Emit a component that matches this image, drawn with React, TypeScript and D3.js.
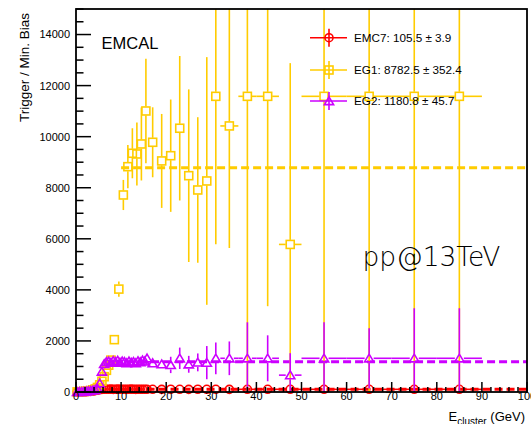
import React from 'react';
import * as d3 from 'd3';

// ---------------- data ----------------
// fine (0.5 GeV) bin centres
const fineX = [0.25, 0.75, 1.25, 1.75, 2.25, 2.75, 3.25, 3.75, 4.25, 4.75, 5.25, 5.75, 6.25, 6.75, 7.25, 7.75,
  8.25, 8.75, 9.25, 9.75, 10.25, 10.75, 11.25, 11.75, 12.25, 12.75, 13.25, 13.75, 14.25, 14.75, 15.25, 15.75];
// coarse bins (centres and half widths)
const hiX = [17, 19, 21, 23, 25, 27, 29, 31, 34, 38, 42.5, 47.5, 55, 65, 75, 85];
const hiHW = [1, 1, 1, 1, 1, 1, 1, 1, 2, 2, 2.5, 2.5, 5, 5, 5, 5];
// EG1 1-GeV bins
const eg1MidX = [8.5, 9.5, 10.5, 11.5, 12.5, 13.5, 14.5, 15.5];

// EMC7
const emc7Fine = [2, 4, 6, 9, 13, 18, 25, 35, 50, 70, 90, 102, 108, 110, 106, 112, 104, 109, 111, 105, 107, 110, 103, 108, 112, 106, 104, 109, 107, 105, 110, 106];
const emc7FineErr = [1, 1, 1, 1, 2, 2, 2, 3, 3, 4, 4, 5, 5, 5, 6, 6, 6, 7, 7, 7, 8, 8, 9, 9, 10, 10, 11, 11, 12, 12, 13, 13];
const emc7Hi = [106, 104, 107, 105, 103, 108, 105, 106, 104, 105, 106, 105, 105, 105, 105, 105];
const emc7HiErr = [15, 17, 20, 23, 26, 30, 34, 38, 42, 60, 70, 80, 90, 100, 105, 105];

// EG1 (low fine bins up to 8 GeV, then 1 GeV, then coarse)
const eg1Fine = [4, 8, 14, 22, 32, 45, 60, 85, 120, 180, 280, 420, 600, 850, 1050, 1250];
const eg1FineErr = [2, 3, 4, 5, 6, 8, 10, 12, 15, 20, 25, 35, 45, 60, 75, 90];
const eg1Mid = [2050, 4030, 7716, 8825, 9350, 9322, 9714, 11006];
const eg1MidErr = [110, 300, 590, 850, 980, 1230, 1430, 2050];
const eg1Hi = [9780, 9050, 9255, 10330, 8472, 7912, 8265, 11580, 10420, 11580, 11580, 5780, 11580, 11580, 11580, 11580];
const eg1HiErr = [1370, 1840, 2200, 2830, 3380, 2850, 4850, 5790, 4780, 11580, 8220, 7100, 11580, 11580, 11580, 11580];

// EG2
const eg2Fine = [3, 6, 10, 16, 24, 35, 50, 70, 85, 140, 340, 800, 1100, 1180, 1200, 1150, 1220, 1180, 1230, 1150, 1200, 1180, 1130, 1200, 1150, 1180, 1130, 1210, 1170, 1240, 1200, 1320];
const eg2FineErr = [1, 2, 3, 4, 5, 6, 8, 10, 12, 15, 20, 30, 40, 40, 45, 45, 50, 50, 55, 55, 60, 60, 65, 65, 70, 70, 75, 75, 80, 80, 85, 90];
const eg2Hi = [1130, 1090, 1060, 1320, 1085, 1160, 1150, 1320, 1320, 1320, 1320, 660, 1320, 1320, 1320, 1320];
const eg2HiErr = [120, 160, 320, 420, 330, 350, 650, 620, 660, 1410, 900, 860, 1410, 1180, 1960, 1960];

// fits
const fitNames = ['EMC7', 'EG1', 'EG2'];
const fitValues = [105.5, 8782.5, 1180.8];
const fitErrors = [3.9, 352.4, 45.7];
const fitStart = [5, 10, 6];

const yTicks = [0, 2000, 4000, 6000, 8000, 10000, 12000, 14000];
const xTicks = [0, 10, 20, 30, 40, 50, 60, 70, 80, 90, 100];

// ---------------- layout ----------------
const W = 531, H = 424;
const X0 = 76, X1 = 527, YB = 392, YT = 9;
const FONT = '"Liberation Sans", Arial, Helvetica, sans-serif';
const COLORS = ['#ff0000', '#ffcc00', '#cc00ff'];

const x = d3.scaleLinear().domain([0, 100]).range([X0, X1]);
const y = d3.scaleLinear().domain([0, 15000]).range([YB, YT]);

type Pt = { x: number; hw: number; y: number; e: number };

function build(xs: number[], hws: number[] | number, ys: number[], es: number[]): Pt[] {
  return xs.map((xv, i) => ({ x: xv, hw: typeof hws === 'number' ? hws : hws[i], y: ys[i], e: es[i] }));
}

const emc7Pts = [...build(fineX, 0.25, emc7Fine, emc7FineErr), ...build(hiX, hiHW, emc7Hi, emc7HiErr)];
const eg1Pts = [
  ...build(fineX.slice(0, 16), 0.25, eg1Fine, eg1FineErr),
  ...build(eg1MidX, 0.5, eg1Mid, eg1MidErr),
  ...build(hiX, hiHW, eg1Hi, eg1HiErr),
];
const eg2Pts = [...build(fineX, 0.25, eg2Fine, eg2FineErr), ...build(hiX, hiHW, eg2Hi, eg2HiErr)];
const series = [emc7Pts, eg1Pts, eg2Pts];

function Marker({ kind, cx, cy, color }: { kind: number; cx: number; cy: number; color: string }) {
  if (kind === 0) return <circle cx={cx} cy={cy} r={4} fill="none" stroke={color} strokeWidth={1.6} />;
  if (kind === 1) return <rect x={cx - 4} y={cy - 4} width={8} height={8} fill="none" stroke={color} strokeWidth={1.6} />;
  return <path d={`M${cx},${cy - 4.2}L${cx + 4.6},${cy + 3.6}L${cx - 4.6},${cy + 3.6}Z`} fill="none" stroke={color} strokeWidth={1.6} />;
}

function ErrBars({ p, color }: { p: Pt; color: string }) {
  const cx = x(p.x), cy = y(p.y);
  const gap = 4.5;
  const top = y(p.y + p.e), bot = y(p.y - p.e);
  const l = x(p.x - p.hw), r = x(p.x + p.hw);
  const segs: [number, number, number, number][] = [];
  if (cy - top > gap) segs.push([cx, top, cx, cy - gap]);
  if (bot - cy > gap) segs.push([cx, cy + gap, cx, bot]);
  if (cx - l > gap) segs.push([l, cy, cx - gap, cy]);
  if (r - cx > gap) segs.push([cx + gap, cy, r, cy]);
  return (
    <g>
      {segs.map((s, i) => (
        <line key={i} x1={s[0]} y1={s[1]} x2={s[2]} y2={s[3]} stroke={color} strokeWidth={1.6} />
      ))}
    </g>
  );
}

export default function App() {
  const minorY = d3.range(0, 15001, 500).filter((v) => v % 2000 !== 0);
  const minorX = d3.range(0, 101, 2).filter((v) => v % 10 !== 0);
  return (
    <svg width={W} height={H} style={{ position: 'absolute', left: 0, top: 0, background: '#fff' }} fontFamily={FONT}>
      <defs>
        <clipPath id="frame">
          <rect x={X0} y={YT} width={X1 - X0} height={YB - YT} />
        </clipPath>
      </defs>
      <rect x={0} y={0} width={W} height={H} fill="#fff" />

      {/* fit lines */}
      <g clipPath="url(#frame)">
        {fitValues.map((v, i) => (
          <line key={i} x1={x(fitStart[i])} x2={X1} y1={y(v)} y2={y(v)} stroke={COLORS[i]} strokeWidth={3} strokeDasharray="8 4" />
        ))}
      </g>

      {/* series */}
      {series.map((pts, k) => (
        <g key={k}>
          <g clipPath="url(#frame)">
            {pts.map((p, i) => (
              <ErrBars key={i} p={p} color={COLORS[k]} />
            ))}
          </g>
          {pts.map((p, i) => (
            <Marker key={i} kind={k} cx={x(p.x)} cy={y(p.y)} color={COLORS[k]} />
          ))}
        </g>
      ))}

      {/* frame */}
      <rect x={X0} y={YT} width={X1 - X0} height={YB - YT} fill="none" stroke="#000" strokeWidth={1.8} />

      {/* y axis ticks */}
      {yTicks.map((t) => (
        <g key={t}>
          <line x1={X0} x2={X0 + 15} y1={y(t)} y2={y(t)} stroke="#000" strokeWidth={1.5} />
          <text x={70} y={y(t)} dy="0.36em" textAnchor="end" fontSize={11}>{t}</text>
        </g>
      ))}
      {minorY.map((t) => (
        <line key={t} x1={X0} x2={X0 + 7.5} y1={y(t)} y2={y(t)} stroke="#000" strokeWidth={1.5} />
      ))}
      {/* x axis ticks */}
      {xTicks.map((t) => (
        <g key={t}>
          <line x1={x(t)} x2={x(t)} y1={YB} y2={YB - 10} stroke="#000" strokeWidth={1.5} />
          <text x={x(t)} y={399.5} textAnchor="middle" fontSize={11}>{t}</text>
        </g>
      ))}
      {minorX.map((t) => (
        <line key={t} x1={x(t)} x2={x(t)} y1={YB} y2={YB - 5} stroke="#000" strokeWidth={1.5} />
      ))}

      {/* axis titles */}
      <text transform="translate(29,13) rotate(-90)" textAnchor="end" fontSize={13.5}>Trigger / Min. Bias</text>
      <text x={525} y={421} textAnchor="end" fontSize={13}>
        E<tspan dy={4} fontSize={10}>cluster</tspan>
        <tspan dy={-4}> (GeV)</tspan>
      </text>

      {/* labels */}
      <text x={101.5} y={49.3} fontSize={16.5}>EMCAL</text>
      <text x={362.5} y={266} fontSize={26.5} fontFamily='"DejaVu Sans", sans-serif' fontWeight={200} fill="#000">pp@13TeV</text>

      {/* legend */}
      {fitNames.map((n, i) => {
        const ly = [37.7, 70, 101][i];
        return (
          <g key={n}>
            <line x1={310} x2={347} y1={ly} y2={ly} stroke={COLORS[i]} strokeWidth={1.6} />
            <line x1={329} x2={329} y1={ly - 9} y2={ly + 9} stroke={COLORS[i]} strokeWidth={1.6} />
            <Marker kind={i} cx={329} cy={ly} color={COLORS[i]} />
            <text x={354} y={ly} dy="0.36em" fontSize={11.7}>{`${n}: ${fitValues[i]} ± ${fitErrors[i]}`}</text>
          </g>
        );
      })}
    </svg>
  );
}
